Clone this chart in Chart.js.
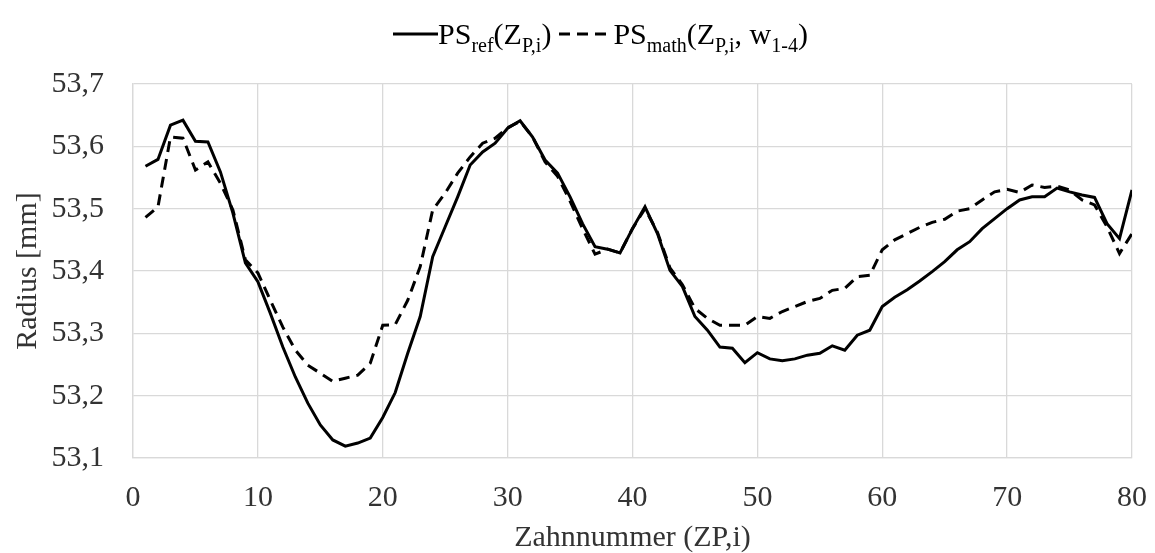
<!DOCTYPE html>
<html>
<head>
<meta charset="utf-8">
<title>PS ref vs PS math</title>
<script src="https://cdn.jsdelivr.net/npm/chart.js@4"></script>
<style>
    body {
        margin: 0;
        background: #fff;
    }
    .wrap {
        position: relative;
        width: 1155px;
        height: 553px;
    }
    .legend {
        position: absolute;
        left: 393px;
        top: 17px;
        display: flex;
        align-items: center;
        font-family: 'Liberation Serif', 'Times New Roman', serif;
        font-size: 30px;
        color: #000;
        white-space: nowrap;
    }
    .legend sub {
        font-size: 20px;
        vertical-align: -8px;
        line-height: 0;
    }
    .legend svg {
        display: block;
    }
</style>
</head>
<body>
<div class="wrap">
    <canvas id="chart" width="1155" height="553"></canvas>
    <div class="legend">
        <svg width="45" height="6"><line x1="0" y1="3" x2="45" y2="3" stroke="#000" stroke-width="3"/></svg>
        <span>PS<sub>ref</sub>(Z<sub>P,i</sub>)</span>
        <svg width="54" height="6" style="margin-left:8px"><line x1="0" y1="3" x2="54" y2="3" stroke="#000" stroke-width="3" stroke-dasharray="11 7"/></svg>
        <span>PS<sub>math</sub>(Z<sub>P,i</sub>, w<sub>1-4</sub>)</span>
    </div>
</div>
<script>
// Zahnnummer (ZP,i)
const zahn = [
    1, 2, 3, 4, 5, 6, 7, 8, 9, 10,
    11, 12, 13, 14, 15, 16, 17, 18, 19, 20,
    21, 22, 23, 24, 25, 26, 27, 28, 29, 30,
    31, 32, 33, 34, 35, 36, 37, 38, 39, 40,
    41, 42, 43, 44, 45, 46, 47, 48, 49, 50,
    51, 52, 53, 54, 55, 56, 57, 58, 59, 60,
    61, 62, 63, 64, 65, 66, 67, 68, 69, 70,
    71, 72, 73, 74, 75, 76, 77, 78, 79, 80
];

// PS_ref(Z_P,i), radius in mm
const psRef = [
    53.568, 53.579, 53.634, 53.642, 53.608, 53.607, 53.559, 53.493, 53.413, 53.383,
    53.332, 53.278, 53.230, 53.188, 53.153, 53.129, 53.119, 53.124, 53.132, 53.165,
    53.205, 53.268, 53.327, 53.423, 53.471, 53.519, 53.570, 53.591, 53.605, 53.629,
    53.641, 53.615, 53.578, 53.557, 53.519, 53.476, 53.439, 53.435, 53.429, 53.468,
    53.503, 53.460, 53.401, 53.375, 53.327, 53.305, 53.278, 53.276, 53.253, 53.269,
    53.259, 53.256, 53.259, 53.265, 53.268, 53.280, 53.273, 53.297, 53.305, 53.343,
    53.358, 53.370, 53.384, 53.399, 53.415, 53.434, 53.447, 53.468, 53.484, 53.500,
    53.514, 53.519, 53.519, 53.533, 53.527, 53.522, 53.518, 53.476, 53.452, 53.530
];

// PS_math(Z_P,i, w1-4), radius in mm
const psMath = [
    53.486, 53.503, 53.615, 53.613, 53.562, 53.575, 53.541, 53.498, 53.418, 53.397,
    53.353, 53.310, 53.273, 53.249, 53.236, 53.223, 53.228, 53.233, 53.252, 53.313,
    53.314, 53.353, 53.407, 53.498, 53.525, 53.557, 53.583, 53.605, 53.613, 53.630,
    53.640, 53.615, 53.575, 53.552, 53.512, 53.468, 53.427, 53.435, 53.429, 53.468,
    53.500, 53.462, 53.405, 53.378, 53.340, 53.324, 53.313, 53.313, 53.313, 53.327,
    53.324, 53.335, 53.343, 53.351, 53.356, 53.369, 53.372, 53.391, 53.393, 53.434,
    53.450, 53.460, 53.470, 53.478, 53.483, 53.496, 53.500, 53.514, 53.527, 53.531,
    53.526, 53.538, 53.534, 53.536, 53.530, 53.514, 53.506, 53.471, 53.428, 53.460
];

const xTicks = [0, 10, 20, 30, 40, 50, 60, 70, 80];
const yTicks = [53.1, 53.2, 53.3, 53.4, 53.5, 53.6, 53.7];

const font = "'Liberation Serif', 'Times New Roman', serif";
const gridColor = '#d9d9d9';
const textColor = '#333';

function toPoints(values) {
    return zahn.map((x, i) => ({ x: x, y: values[i] }));
}

new Chart(document.getElementById('chart'), {
    type: 'line',
    data: {
        datasets: [
            {
                label: 'PS_ref(Z_P,i)',
                data: toPoints(psRef),
                borderColor: '#000',
                borderWidth: 3,
                pointRadius: 0,
                tension: 0,
                fill: false
            },
            {
                label: 'PS_math(Z_P,i, w1-4)',
                data: toPoints(psMath),
                borderColor: '#000',
                borderWidth: 3,
                borderDash: [11, 7],
                pointRadius: 0,
                tension: 0,
                fill: false
            }
        ]
    },
    options: {
        responsive: false,
        animation: false,
        devicePixelRatio: 1,
        layout: {
            padding: { top: 84, right: 23, bottom: 0, left: 0 }
        },
        plugins: {
            legend: { display: false },
            tooltip: { enabled: false }
        },
        scales: {
            x: {
                type: 'linear',
                min: xTicks[0],
                max: xTicks[xTicks.length - 1],
                afterBuildTicks: s => { s.ticks = xTicks.map(v => ({ value: v })); },
                afterFit: s => {
                    s.height = 95;
                    // tick padding would otherwise be added to the right margin
                    s.paddingRight = 0;
                },
                grid: { color: gridColor, lineWidth: 1.3, drawTicks: false },
                border: { color: gridColor, width: 1.3 },
                ticks: {
                    padding: 22,
                    color: textColor,
                    font: { family: font, size: 30 }
                },
                title: {
                    display: true,
                    text: 'Zahnnummer (ZP,i)',
                    color: textColor,
                    font: { family: font, size: 30, lineHeight: 1 },
                    padding: { top: 0, bottom: 0 }
                }
            },
            y: {
                min: yTicks[0],
                max: yTicks[yTicks.length - 1],
                afterBuildTicks: s => { s.ticks = yTicks.map(v => ({ value: v })); },
                afterFit: s => { s.width = 133; },
                grid: { color: gridColor, lineWidth: 1.3, drawTicks: false },
                border: { color: gridColor, width: 1.3 },
                ticks: {
                    padding: 29,
                    color: textColor,
                    font: { family: font, size: 30 },
                    callback: v => v.toFixed(1).replace('.', ',')
                },
                title: {
                    display: true,
                    text: 'Radius [mm]',
                    color: textColor,
                    font: { family: font, size: 30, lineHeight: 1 },
                    padding: { top: 13, bottom: 0 }
                }
            }
        }
    }
});
</script>
</body>
</html>
